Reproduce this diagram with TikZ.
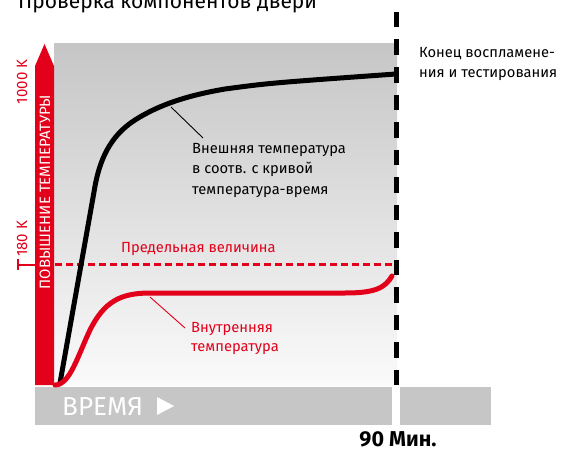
\documentclass[tikz,border=0pt]{standalone}
\usepackage{fontspec}
\setmainfont{Fira Sans}
\definecolor{fred}{HTML}{E2001A}
\definecolor{gtop}{HTML}{C6C6C6}
\definecolor{gbot}{HTML}{FAFAFA}
\begin{document}
\begin{tikzpicture}[x=1pt,y=-1pt,
  lbl/.style={inner sep=0pt, font=\fontsize{14.7}{20.5}\selectfont, align=left},
  axlbl/.style={inner sep=0pt, rotate=90, text=fred, font=\fontsize{15}{18}\selectfont},
  curve/.style={line width=5pt, line cap=round},
  leader/.style={line width=0.9pt}]
\useasboundingbox (0,0) rectangle (561,452);
% title
\node[anchor=base west, inner sep=0pt, font=\fontsize{21}{24}\selectfont] (title) at (18,9) {Проверка компонентов двери};
% plot background
\shade[top color=gtop, bottom color=gbot] (54,44) rectangle (397,385);
% red axis arrow
\fill[fred] (35,385) -- (35,66) -- (44.5,44) -- (54,66) -- (54,385) -- cycle;
\node[inner sep=0pt, rotate=90, text=white, font=\fontsize{15}{18}\selectfont] (axis) at (45,192) {ПОВЫШЕНИЕ ТЕМПЕРАТУРЫ};
\node[axlbl] (k1000) at (22,82) {1000 K};
\node[axlbl] (k180) at (22,239) {180 K};
\draw[fred, line width=2pt] (18,259) -- (18,270);
\draw[fred, line width=2pt] (18,264.5) -- (35,264.5);
% limit line
\draw[fred, line width=2.5pt, dash pattern=on 7pt off 4pt] (55,264.5) -- (393,264.5);
\node[lbl, anchor=base west, text=fred] (limit) at (121,252) {Предельная величина};
% time bar
\fill[gtop] (35,387) rectangle (392,425);
\fill[gtop] (400,387) rectangle (491,425);
\node[anchor=base west, inner sep=0pt, text=white, font=\fontsize{26}{30}\selectfont] (time) at (62,415) {ВРЕМЯ};
\fill[white] (157,397) -- (174,406) -- (157,415) -- cycle;
% end line
\draw[line width=5pt, dash pattern=on 15.5pt off 12pt] (396,12) -- (396,386);
\node[lbl, anchor=base west, font=\fontsize{14.7}{20}\selectfont] (endtxt) at (419,77) {Конец воспламене-\\ния и тестирования};
\node[anchor=base, inner sep=0pt, font=\bfseries\fontsize{21.5}{24}\selectfont] (min) at (398,446) {90 Мин.};
% outer temperature curve
\draw[curve] (60,383) -- (94,192) .. controls (99,160) and (110,136) .. (135,120)
  .. controls (160,104) and (190,95) .. (225,89) .. controls (270,83) .. (396,74);
\coordinate (outerpt) at (171,107);
\coordinate (outerend) at (203,138);
\draw[leader] (outerpt) -- (outerend);
\node[lbl, anchor=base west] (outer) at (192,194) {Внешняя температура\\в соотв. с кривой\\температура-время};
% inner temperature curve
\draw[curve, fred] (55,385) .. controls (70,385) and (78,355) .. (90,330)
  .. controls (104,302) and (120,293) .. (150,293) -- (345,293)
  .. controls (375,293) and (385,288) .. (392,276);
\coordinate (innerpt) at (150,297);
\coordinate (innerend) at (185,328);
\draw[leader, fred] (innerpt) -- (innerend);
\node[lbl, anchor=base west, text=fred, font=\fontsize{14.7}{18.5}\selectfont] (inner) at (191,351) {Внутренняя\\температура};
\end{tikzpicture}
\end{document}
